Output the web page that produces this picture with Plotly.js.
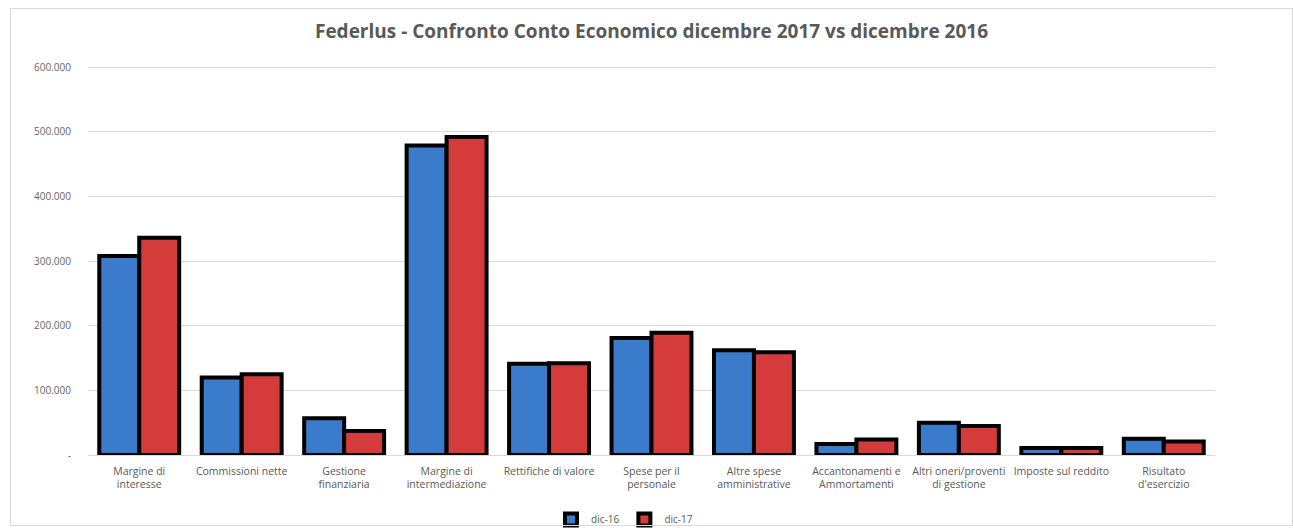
<!DOCTYPE html>
<html>
<head>
<meta charset="utf-8">
<script src="https://cdn.plot.ly/plotly-3.0.1.min.js"></script>
<style>
  html, body { margin: 0; padding: 0; background: #fff; }
  #wrap { position: relative; width: 1293px; height: 529px; }
  #chart { position: absolute; left: 0; top: 0; width: 1293px; height: 529px; }
  #frame { position: absolute; left: 10px; top: 8px; width: 1283px; height: 518px;
           border: 1px solid #d9d9d9; box-sizing: border-box; pointer-events: none; }
</style>
</head>
<body>
<div id="wrap">
  <div id="chart"></div>
  <div id="frame"></div>
</div>
<script>
const categories = [
  "Margine di<br>interesse",
  "Commissioni nette",
  "Gestione<br>finanziaria",
  "Margine di<br>intermediazione",
  "Rettifiche di valore",
  "Spese per il<br>personale",
  "Altre spese<br>amministrative",
  "Accantonamenti e<br>Ammortamenti",
  "Altri oneri/proventi<br>di gestione",
  "Imposte sul reddito",
  "Risultato<br>d'esercizio"
];
const dic16 = [308000, 120000, 57000, 479000, 141000, 181000, 162000, 17000, 50000, 11000, 25000];
const dic17 = [336000, 125000, 37000, 492000, 142000, 189000, 159000, 24000, 45000, 11000, 21000];
const yTickVals = [0, 100000, 200000, 300000, 400000, 500000, 600000];
const yTickText = ["-", "100.000", "200.000", "300.000", "400.000", "500.000", "600.000"];

const traces = [
  { type: 'bar', name: 'dic-16', x: categories, y: dic16,
    marker: { color: '#3b7bcc', line: { color: '#000000', width: 4 } } },
  { type: 'bar', name: 'dic-17', x: categories, y: dic17,
    marker: { color: '#d63b3b', line: { color: '#000000', width: 4 } } }
];

const layout = {
  width: 1293, height: 529,
  margin: { l: 88, r: 78, t: 64, b: 74, autoexpand: false },
  paper_bgcolor: '#ffffff', plot_bgcolor: '#ffffff',
  font: { family: 'Open Sans, Liberation Sans, sans-serif', color: '#595959', size: 10.5 },
  title: { text: '<b>Federlus - Confronto Conto Economico dicembre 2017 vs dicembre 2016</b>',
           font: { size: 19, color: '#595959', family: 'Open Sans, sans-serif' },
           x: 0.5, xanchor: 'center', y: 0.94, yanchor: 'middle', xref: 'paper' },
  barmode: 'group', bargap: 0.22, bargroupgap: 0.0,
  xaxis: { type: 'category', showgrid: false, showline: true, linecolor: '#d9d9d9', linewidth: 1,
           tickfont: { size: 10.5, color: '#595959' }, ticks: 'outside', ticklen: 6,
           tickcolor: 'rgba(0,0,0,0)', fixedrange: true },
  yaxis: { range: [0, 605000], tickvals: yTickVals, ticktext: yTickText,
           showgrid: true, gridcolor: '#d9d9d9', gridwidth: 1, zeroline: false,
           tickfont: { size: 10, color: '#666666' }, ticks: 'outside', ticklen: 14, tickcolor: 'rgba(0,0,0,0)' },
  legend: { orientation: 'h', x: 0.483, xref: 'container', xanchor: 'center',
            y: 0.018, yref: 'container', yanchor: 'middle',
            font: { size: 10, color: '#595959' }, itemwidth: 30 },
  showlegend: true
};

Plotly.newPlot('chart', traces, layout, { displayModeBar: false, staticPlot: true });
</script>
</body>
</html>
